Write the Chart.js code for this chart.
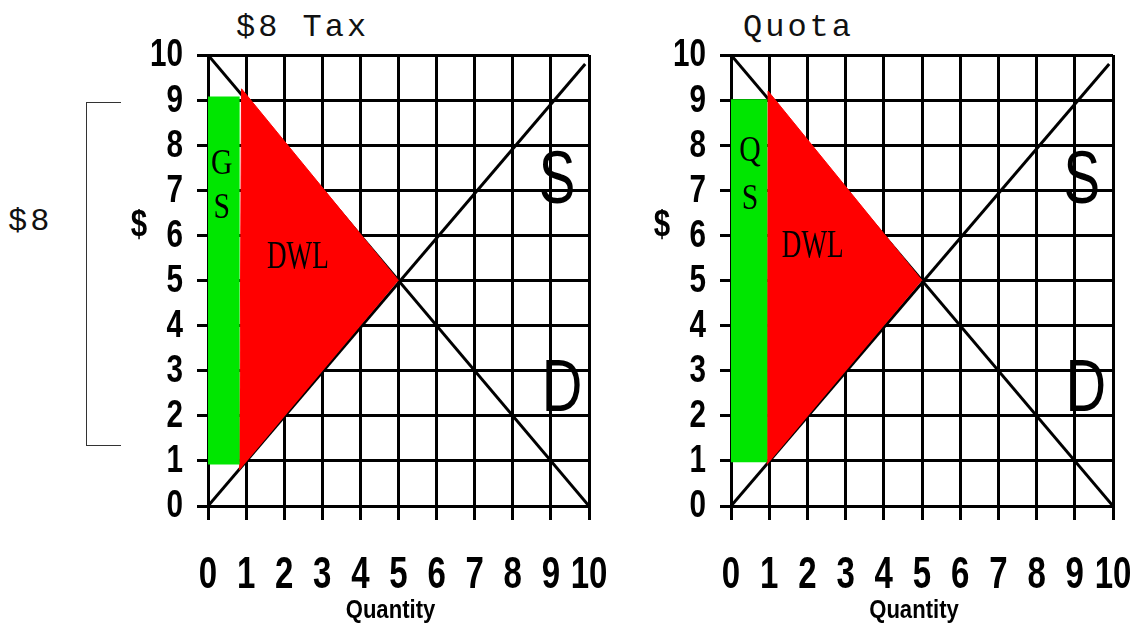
<!DOCTYPE html>
<html>
<head>
<meta charset="utf-8">
<title>$8 Tax vs Quota</title>
<script src="https://cdn.jsdelivr.net/npm/chart.js@4.4.1/dist/chart.umd.min.js"></script>
<style>
  body { margin: 0; background: #fff; }
  #page { position: relative; width: 1140px; height: 631px; overflow: hidden; background: #fff; }
  .wrap { position: absolute; top: 0; height: 631px; }
  .title { position: absolute; font-family: "Liberation Mono", monospace; font-size: 32px; letter-spacing: 3px; line-height: 1; color: #111; white-space: pre; }
  #bracket { position: absolute; left: 86px; top: 102px; width: 34px; height: 342px; border: 1.5px solid #333; border-right: none; }
</style>
</head>
<body>
<div id="page">
  <div class="title" style="left:236px; top:12px;">$8 Tax</div>
  <div class="title" style="left:743px; top:12px;">Quota</div>
  <div class="title" style="left:8px; top:206px;">$8</div>
  <div id="bracket"></div>
  <div class="wrap" style="left:118px; width:495px;"><canvas id="taxChart" width="495" height="631"></canvas></div>
  <div class="wrap" style="left:641px; width:496px;"><canvas id="quotaChart" width="496" height="631"></canvas></div>
</div>
<script>
// axis ticks
const quantityTicks = [0, 1, 2, 3, 4, 5, 6, 7, 8, 9, 10];
const priceTicks = [0, 1, 2, 3, 4, 5, 6, 7, 8, 9, 10];

// demand and supply lines (same in both panels)
const demandQ = [0, 10];
const demandP = [10, 0];
const supplyQ = [0, 9.9];
const supplyP = [0, 9.8];

// $8 tax panel
const taxSurplusQ = [0, 0.83, 0.83, 0];
const taxSurplusP = [0.92, 0.92, 9.08, 9.08];
const taxDwlQ = [0.83, 0.88, 5];
const taxDwlP = [0.8, 9.25, 5];

// quota panel
const quotaSurplusQ = [0, 0.95, 0.95, 0];
const quotaSurplusP = [0.97, 0.97, 9.02, 9.02];
const quotaDwlQ = [0.95, 0.97, 5];
const quotaDwlP = [0.92, 9.2, 5];

const SANS = '"Liberation Sans", Arial, sans-serif';
const SERIF = '"Liberation Serif", serif';

// text placed in data units
const taxLabels = [
  { text: 'DWL', x: 2.36, y: 5.5, font: '40px ' + SERIF, sx: 0.68 },
  { text: 'G', x: 0.36, y: 7.56, font: '35px ' + SERIF, sx: 0.85 },
  { text: 'S', x: 0.36, y: 6.6, font: '35px ' + SERIF, sx: 0.85 },
  { text: 'S', x: 9.16, y: 7.16, font: '74px ' + SANS, sx: 0.74 },
  { text: 'D', x: 9.29, y: 2.55, font: '74px ' + SANS, sx: 0.76 }
];
const quotaLabels = [
  { text: 'DWL', x: 2.14, y: 5.76, font: '40px ' + SERIF, sx: 0.68 },
  { text: 'Q', x: 0.5, y: 7.85, font: '35px ' + SERIF, sx: 0.85 },
  { text: 'S', x: 0.5, y: 6.8, font: '35px ' + SERIF, sx: 0.85 },
  { text: 'S', x: 9.18, y: 7.16, font: '74px ' + SANS, sx: 0.74 },
  { text: 'D', x: 9.29, y: 2.55, font: '74px ' + SANS, sx: 0.76 }
];

function pts(qs, ps) {
    return qs.map((q, i) => ({ x: q, y: ps[i] }));
}

// condensed text: squeeze horizontally around the anchor
function squeezed(ctx, text, x, y, sx) {
    ctx.save();
    ctx.translate(x, y);
    ctx.scale(sx, 1);
    ctx.fillText(text, 0, 0);
    ctx.restore();
}

const markText = {
    id: 'markText',
    afterDraw(chart, args, opts) {
        const { ctx, chartArea, scales: { x, y } } = chart;
        ctx.save();
        ctx.fillStyle = '#000';
        ctx.textBaseline = 'middle';

        // tick labels, at the library's tick positions
        ctx.textAlign = 'center';
        ctx.font = 'bold 44px ' + SANS;
        x.ticks.forEach(t => squeezed(ctx, t.label, x.getPixelForValue(t.value), 576, 0.75));
        ctx.textAlign = 'right';
        ctx.font = 'bold 38px ' + SANS;
        y.ticks.forEach(t => squeezed(ctx, t.label, chartArea.left - 25, y.getPixelForValue(t.value) + 1, 0.78));

        // marks inside the plot
        ctx.textAlign = 'center';
        opts.labels.forEach(l => {
            ctx.font = l.font;
            squeezed(ctx, l.text, x.getPixelForValue(l.x), y.getPixelForValue(l.y), l.sx);
        });

        // axis titles
        ctx.font = 'bold 36px ' + SANS;
        squeezed(ctx, '$', chartArea.left - 69, 226, 0.82);
        ctx.font = 'bold 26px ' + SANS;
        squeezed(ctx, 'Quantity', (chartArea.left + chartArea.right) / 2 - 8, 611, 0.85);
        ctx.restore();
    }
};

function makeChart(id, surplus, dwl, labels) {
    const ctx = document.getElementById(id).getContext('2d');
    return new Chart(ctx, {
        type: 'scatter',
        data: {
            datasets: [{
                label: 'Surplus',
                data: surplus,
                showLine: true,
                fill: 'shape',
                backgroundColor: '#00e600',
                borderWidth: 0,
                pointRadius: 0,
                order: 1
            }, {
                label: 'DWL',
                data: dwl,
                showLine: true,
                fill: 'shape',
                backgroundColor: '#ff0000',
                borderColor: '#ff0000',
                borderWidth: 1,
                pointRadius: 0,
                order: 1
            }, {
                label: 'Demand',
                data: pts(demandQ, demandP),
                showLine: true,
                borderColor: '#000',
                borderWidth: 3,
                pointRadius: 0,
                order: 2
            }, {
                label: 'Supply',
                data: pts(supplyQ, supplyP),
                showLine: true,
                borderColor: '#000',
                borderWidth: 3,
                pointRadius: 0,
                order: 2
            }]
        },
        options: {
            responsive: false,
            animation: false,
            layout: { padding: { left: 0, right: 24, top: 55, bottom: 0 } },
            plugins: {
                legend: { display: false },
                tooltip: { enabled: false },
                markText: { labels: labels }
            },
            scales: {
                x: {
                    type: 'linear',
                    min: 0,
                    max: 10,
                    afterBuildTicks: scale => { scale.ticks = quantityTicks.map(v => ({ value: v })); },
                    afterFit: scale => { scale.height = 125; },
                    grid: { color: '#000', lineWidth: 3, tickLength: 14, tickColor: '#000', tickWidth: 3 },
                    border: { color: '#000', width: 3 },
                    ticks: { display: false, autoSkip: false, maxRotation: 0 }
                },
                y: {
                    type: 'linear',
                    min: 0,
                    max: 10,
                    afterBuildTicks: scale => { scale.ticks = priceTicks.map(v => ({ value: v })); },
                    afterFit: scale => { scale.width = 90; },
                    grid: { color: '#000', lineWidth: 3, tickLength: 11, tickColor: '#000', tickWidth: 3 },
                    border: { color: '#000', width: 3 },
                    ticks: { display: false, autoSkip: false }
                }
            }
        },
        plugins: [markText]
    });
}

makeChart('taxChart', pts(taxSurplusQ, taxSurplusP), pts(taxDwlQ, taxDwlP), taxLabels);
makeChart('quotaChart', pts(quotaSurplusQ, quotaSurplusP), pts(quotaDwlQ, quotaDwlP), quotaLabels);
</script>
</body>
</html>
